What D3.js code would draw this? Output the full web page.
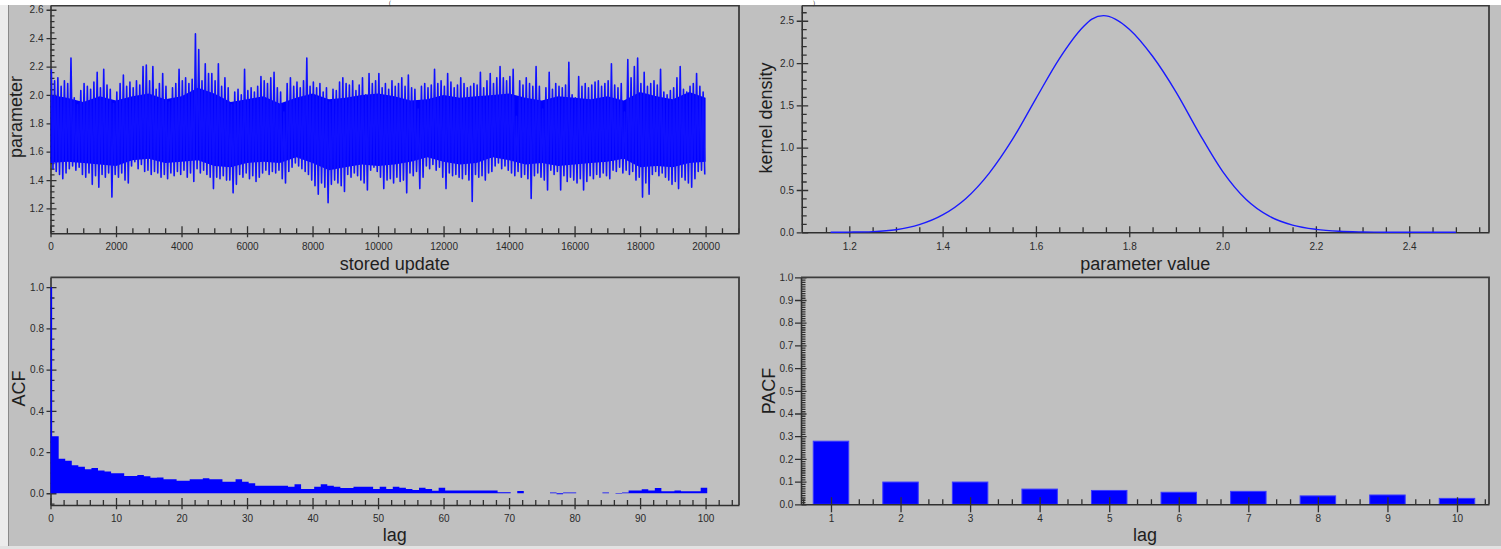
<!DOCTYPE html>
<html><head><meta charset="utf-8">
<script src="https://cdn.jsdelivr.net/npm/d3@7"></script>
<style>
html,body{margin:0;padding:0;background:#c0c0c0;overflow:hidden}
svg{display:block}
.tick text{font-family:"Liberation Sans",Arial,sans-serif;font-size:10px;fill:#2a2a2a}
.title{font-family:"Liberation Sans",Arial,sans-serif;font-size:18px;fill:#1e1e1e}
</style></head>
<body><svg id="c" width="1501" height="549"></svg>
<script>
// ---------------- DATA ----------------
// Trace: max / min of the chain in each block of 100 stored updates
const traceBlock = 100;
const traceHigh = [
2.18,2.10,2.12,2.06,2.10,2.08,2.26,1.98,1.93,2.03,
2.08,2.06,2.04,2.09,2.16,2.05,2.18,2.07,2.04,1.94,
2.02,2.08,2.14,2.06,2.09,2.05,2.10,2.07,2.20,2.21,
2.10,2.20,2.04,2.08,2.15,2.06,1.95,2.05,2.08,2.18,
2.10,2.12,2.08,2.11,2.43,2.32,2.10,2.22,2.15,2.15,
2.10,2.22,2.06,2.12,2.05,1.93,2.02,2.04,2.00,2.18,
2.03,2.05,2.02,2.06,2.13,2.10,2.08,2.12,2.16,2.05,
2.02,1.88,2.08,2.12,2.06,2.09,2.05,2.10,2.26,2.06,
2.09,2.05,2.08,2.02,2.05,1.95,2.04,2.03,2.09,2.12,
2.08,2.07,2.10,2.03,2.07,2.12,2.00,2.15,2.08,2.10,
2.15,2.05,2.08,2.04,2.10,2.06,2.08,2.12,2.06,2.14,
2.05,2.04,1.90,2.06,2.08,2.05,2.07,2.18,2.08,2.10,
2.06,2.15,2.09,2.05,2.07,2.12,2.08,2.05,2.06,2.08,
2.07,2.16,2.05,2.10,2.15,2.08,2.12,2.20,2.12,2.10,
2.13,2.18,1.85,2.10,2.07,2.12,2.08,2.06,2.20,2.06,
1.90,2.05,2.16,2.04,2.08,2.06,2.05,2.07,2.23,2.00,
1.98,2.13,2.06,2.08,2.05,2.07,2.09,2.10,2.06,2.08,
2.10,2.22,2.07,2.05,2.08,1.88,2.25,2.12,2.20,2.26,
2.08,2.16,2.06,2.08,2.10,2.07,2.18,2.02,2.00,2.03,
2.05,2.12,2.20,2.04,2.02,2.06,2.08,2.15,2.06,2.02];
const traceLow = [
1.48,1.46,1.44,1.41,1.45,1.48,1.50,1.47,1.49,1.44,
1.42,1.45,1.37,1.43,1.35,1.44,1.42,1.45,1.28,1.44,
1.42,1.45,1.40,1.38,1.50,1.53,1.48,1.51,1.46,1.47,
1.44,1.46,1.45,1.42,1.44,1.41,1.45,1.43,1.46,1.44,
1.47,1.42,1.45,1.39,1.48,1.45,1.47,1.44,1.42,1.34,
1.42,1.41,1.43,1.40,1.40,1.31,1.37,1.44,1.42,1.45,
1.41,1.43,1.39,1.42,1.45,1.47,1.44,1.46,1.45,1.47,
1.41,1.38,1.46,1.49,1.52,1.50,1.48,1.46,1.44,1.40,
1.36,1.30,1.38,1.35,1.24,1.37,1.40,1.38,1.36,1.32,
1.44,1.42,1.45,1.43,1.40,1.38,1.33,1.47,1.49,1.46,
1.42,1.34,1.40,1.41,1.38,1.42,1.39,1.40,1.31,1.45,
1.43,1.46,1.34,1.42,1.50,1.48,1.51,1.47,1.49,1.42,
1.34,1.45,1.43,1.44,1.42,1.41,1.44,1.40,1.25,1.44,
1.42,1.43,1.40,1.45,1.46,1.50,1.52,1.48,1.50,1.47,
1.45,1.43,1.46,1.42,1.44,1.41,1.27,1.43,1.45,1.42,
1.40,1.33,1.47,1.44,1.46,1.33,1.43,1.39,1.42,1.40,
1.38,1.41,1.33,1.39,1.43,1.41,1.44,1.42,1.45,1.43,
1.41,1.47,1.46,1.49,1.45,1.47,1.44,1.46,1.40,1.42,
1.28,1.38,1.30,1.44,1.46,1.43,1.45,1.42,1.40,1.37,
1.39,1.34,1.42,1.40,1.38,1.35,1.41,1.46,1.47,1.44];
// Edges of the dense (solid) part of the trace, every 500 stored updates
const traceCoreStep = 500;
const traceCoreHigh = [2.00,1.98,1.95,1.99,1.96,1.99,2.01,1.97,1.99,2.05,2.01,1.95,1.97,1.99,1.94,1.98,2.01,1.97,1.98,2.00,
  2.01,1.99,1.96,1.97,2.00,1.98,1.99,2.00,2.01,1.98,1.96,1.99,1.98,1.97,1.99,1.96,2.02,1.99,1.97,2.02,1.98];
const traceCoreLow = [1.52,1.53,1.52,1.51,1.50,1.54,1.55,1.52,1.53,1.54,1.50,1.49,1.52,1.53,1.52,1.56,1.52,1.47,1.49,1.51,
  1.50,1.51,1.53,1.56,1.53,1.51,1.52,1.56,1.54,1.51,1.52,1.50,1.51,1.52,1.53,1.55,1.49,1.50,1.49,1.52,1.53];

// Kernel density
const densX = [1.16,1.2,1.25,1.3,1.35,1.4,1.45,1.5,1.55,1.6,1.65,1.7,1.72,1.745,1.77,1.8,1.85,1.9,1.95,2.0,2.05,2.1,2.15,2.2,2.25,2.3,2.35,2.4,2.45,2.5];
const densY = [0.0,0.002,0.008,0.03,0.09,0.205,0.40,0.70,1.10,1.58,2.05,2.42,2.52,2.56,2.52,2.40,2.08,1.66,1.17,0.72,0.39,0.19,0.085,0.035,0.012,0.004,0.001,0,0,0];

// ACF, lag 0..100 (index = lag)
const acfValues = [
1.0,0.277,0.168,0.158,0.136,0.129,0.116,0.122,0.111,0.105,
0.097,0.097,0.084,0.084,0.089,0.082,0.075,0.076,0.068,0.068,
0.061,0.061,0.068,0.068,0.073,0.068,0.068,0.056,0.056,0.068,
0.056,0.048,0.037,0.037,0.037,0.037,0.037,0.032,0.044,0.021,
0.021,0.032,0.044,0.037,0.031,0.026,0.026,0.031,0.031,0.031,
0.021,0.032,0.021,0.032,0.027,0.021,0.016,0.027,0.021,0.012,
0.027,0.013,0.013,0.013,0.013,0.013,0.013,0.013,0.013,0.005,
0.005,0,0.011,0,0,0,0,0.004,-0.005,0.004,
0.004,0,0,0,0,0.004,0,-0.003,0.004,0.013,
0.013,0.02,0.013,0.026,0.01,0.01,0.013,0.01,0.01,0.01,
0.027];

// PACF
const pacfLags = [1,2,3,4,5,6,7,8,9,10];
const pacfValues = [0.278,0.098,0.098,0.067,0.061,0.053,0.057,0.037,0.041,0.026];

// Tick labels
const traceXTicks = [0,2000,4000,6000,8000,10000,12000,14000,16000,18000,20000];
const traceYTicks = [1.2,1.4,1.6,1.8,2.0,2.2,2.4,2.6];
const densXTicks = [1.2,1.4,1.6,1.8,2.0,2.2,2.4];
const densYTicks = [0.0,0.5,1.0,1.5,2.0,2.5];
const acfXTicks = [0,10,20,30,40,50,60,70,80,90,100];
const acfYTicks = [0.0,0.2,0.4,0.6,0.8,1.0];
const pacfYTicks = [0.0,0.1,0.2,0.3,0.4,0.5,0.6,0.7,0.8,0.9,1.0];

// ---------------- DRAW ----------------
const svg = d3.select("#c");
const BLUE = "#0000ff", AX = "#303030";
svg.append("rect").attr("width",1501).attr("height",549).attr("fill","#c0c0c0");
const defs = svg.append("defs");
function clip(id,x,y,w,h){defs.append("clipPath").attr("id",id).append("rect").attr("x",x).attr("y",y).attr("width",w).attr("height",h);}
clip("cTL",8.5,5,737,268.5); clip("cTR",745,5,756,268.5);
clip("cBL",8.5,273.5,737,272.5); clip("cBR",745,273.5,756,272.5);

function minors(a,b,step,majors){
  const out=[]; const n=Math.round((b-a)/step);
  for(let i=0;i<=n;i++){const v=+(a+i*step).toFixed(4); if(!majors.some(m=>Math.abs(m-v)<1e-6)) out.push(v);}
  return out;
}
function styleAxis(sel, keepDomain){
  sel.selectAll(".tick line").attr("stroke",AX).attr("stroke-width",1.3);
  if(keepDomain) sel.select(".domain").attr("stroke",AX).attr("stroke-width",1.6);
  else sel.select(".domain").remove();
}
function axes(g,c,part){
  const x=c.x,y=c.y;
  if(part!=="major"){
    g.append("g").attr("transform",`translate(0,${c.xAxisY})`)
      .call(d3.axisTop(x).tickValues(c.xMinor).tickSize(c.xMinorLen).tickFormat(""))
      .call(s=>styleAxis(s,false));
    g.append("g").attr("transform",`translate(${c.yAxisX},0)`)
      .call(d3.axisRight(y).tickValues(c.yMinor).tickSize(c.yMinorLen).tickFormat(""))
      .call(s=>styleAxis(s,false));
  }
  if(part!=="minor"){
    g.append("g").attr("transform",`translate(0,${c.xAxisY})`)
      .call(d3.axisBottom(x).tickValues(c.xMajor).tickSize(c.xDown).tickSizeOuter(0).tickPadding(c.xPad).tickFormat(c.xFmt))
      .call(s=>styleAxis(s,true));
    g.append("g").attr("transform",`translate(0,${c.xAxisY})`)
      .call(d3.axisTop(x).tickValues(c.xMajor).tickSize(c.xUp).tickFormat(""))
      .call(s=>styleAxis(s,false));
    g.append("g").attr("transform",`translate(${c.yAxisX},0)`)
      .call(d3.axisLeft(y).tickValues(c.yMajor).tickSize(c.yLeft).tickSizeOuter(0).tickPadding(c.yPad).tickFormat(c.yFmt))
      .call(s=>styleAxis(s,true));
    g.append("g").attr("transform",`translate(${c.yAxisX},0)`)
      .call(d3.axisRight(y).tickValues(c.yMajor).tickSize(c.yRight).tickFormat(""))
      .call(s=>styleAxis(s,false));
    const xr=x.range(), yr=y.range();
    g.append("path").attr("d",`M${c.yAxisX},${yr[1]}H${xr[1]}V${c.xAxisY}`)
      .attr("fill","none").attr("stroke","#3c3c3c").attr("stroke-width",1.8);
  }
}
function titles(g,c,xt,yt){
  g.append("text").attr("class","title").attr("text-anchor","middle")
    .attr("x",(c.x.range()[0]+c.x.range()[1])/2).attr("y",c.xtY).text(xt);
  g.append("text").attr("class","title").attr("text-anchor","middle")
    .attr("transform",`translate(${c.ytX},${c.ytY}) rotate(-90)`).text(yt);
}

// ---- Top-left: trace ----
{
  const g=svg.append("g").attr("clip-path","url(#cTL)");
  const x=d3.scaleLinear().domain([0,21020]).range([50.5,739]);
  const y=d3.scaleLinear().domain([1.025,2.63]).range([233.3,5.5]);
  const c={x,y,xAxisY:233.3,yAxisX:50.5,
    xMajor:traceXTicks,xMinor:minors(0,21000,500,traceXTicks),xMinorLen:5,xDown:4,xUp:7,xPad:5.6,xFmt:d3.format("d"),
    yMajor:traceYTicks,yMinor:minors(1.04,2.6,0.04,traceYTicks),yMinorLen:4,yLeft:4,yRight:6,yPad:3,yFmt:d3.format(".1f"),
    xtY:269.5,ytX:21.5,ytY:117};
  axes(g,c);
  // solid dense part
  g.append("path").attr("d",d3.area().x((d,i)=>x(i*traceCoreStep)).y0((d,i)=>y(traceCoreLow[i])).y1(d=>y(d))(traceCoreHigh))
    .attr("fill",BLUE);
  // individual excursions (thin strokes)
  const pts=[];
  traceHigh.forEach((h,i)=>{pts.push([i*traceBlock+25,h]);pts.push([i*traceBlock+75,traceLow[i]]);});
  g.append("path").attr("d",d3.line().x(d=>x(d[0])).y(d=>y(d[1]))(pts))
    .attr("fill","none").attr("stroke","#1010ff").attr("stroke-width",1.6).attr("stroke-linejoin","round");
  titles(g,c,"stored update","parameter");
}

// ---- Top-right: kernel density ----
{
  const g=svg.append("g").attr("clip-path","url(#cTR)");
  const x=d3.scaleLinear().domain([1.098,2.571]).range([801.7,1489]);
  const y=d3.scaleLinear().domain([0,2.68]).range([232.3,5.5]);
  const c={x,y,xAxisY:232.3,yAxisX:801.7,
    xMajor:densXTicks,xMinor:minors(1.15,2.55,0.05,densXTicks),xMinorLen:5,xDown:5,xUp:6,xPad:5.6,xFmt:d3.format(".1f"),
    yMajor:densYTicks,yMinor:minors(0.1,2.6,0.1,densYTicks),yMinorLen:5,yLeft:5,yRight:6.5,yPad:2.7,yFmt:d3.format(".1f"),
    xtY:269.5,ytX:771.5,ytY:118};
  axes(g,c);
  g.append("path").attr("d",d3.line().curve(d3.curveMonotoneX).x((d,i)=>x(densX[i])).y(d=>y(d))(densY))
    .attr("fill","none").attr("stroke","#1a1aff").attr("stroke-width",1.4);
  titles(g,c,"parameter value","kernel density");
}

// ---- Bottom-left: ACF ----
{
  const g=svg.append("g").attr("clip-path","url(#cBL)");
  const x=d3.scaleLinear().domain([0,105.1]).range([50.5,739]);
  const y=d3.scaleLinear().domain([-0.057,1.048]).range([505,277.3]);
  const c={x,y,xAxisY:505,yAxisX:50.5,
    xMajor:acfXTicks,xMinor:minors(2,104,2,acfXTicks),xMinorLen:5,xDown:4.3,xUp:7,xPad:5.6,xFmt:d3.format("d"),
    yMajor:acfYTicks,yMinor:minors(-0.05,1.0,0.05,acfYTicks),yMinorLen:4,yLeft:4,yRight:6,yPad:2.5,yFmt:d3.format(".1f"),
    xtY:541,ytX:25,ytY:388.5};
  axes(g,c);
  const steps=acfValues.map((v,k)=>[Math.max(0,k-0.75),v]);
  steps.push([acfValues.length-1+0.25,acfValues[acfValues.length-1]]);
  g.append("path").attr("d",d3.area().curve(d3.curveStepAfter).x(d=>x(d[0])).y0(y(0)).y1(d=>y(d[1]))(steps))
    .attr("fill",BLUE);
  titles(g,c,"lag","ACF");
}

// ---- Bottom-right: PACF ----
{
  const g=svg.append("g").attr("clip-path","url(#cBR)");
  const x=d3.scaleLinear().domain([0.569,10.46]).range([801,1489]);
  const y=d3.scaleLinear().domain([0,1.0]).range([504.3,277.3]);
  const c={x,y,xAxisY:504.3,yAxisX:801,
    xMajor:pacfLags,xMinor:minors(0.6,10.4,0.2,pacfLags),xMinorLen:5,xDown:8,xUp:7,xPad:2.6,xFmt:d3.format("d"),
    yMajor:pacfYTicks,yMinor:minors(0.01,0.99,0.01,pacfYTicks),yMinorLen:4.5,yLeft:6,yRight:5.5,yPad:1.7,yFmt:d3.format(".1f"),
    xtY:541,ytX:775,ytY:391};
  axes(g,c,"minor");
  g.selectAll("rect.bar").data(pacfValues).join("rect").attr("class","bar")
    .attr("x",(d,i)=>x(pacfLags[i]-0.255)).attr("width",x(1.255)-x(0.745))
    .attr("y",d=>y(d)).attr("height",d=>y(0)-y(d))
    .attr("fill",BLUE).attr("stroke","#3a3aff").attr("stroke-width",1);
  axes(g,c,"major");
  titles(g,c,"lag","PACF");
}

// ---- window chrome ----
svg.append("rect").attr("x",0).attr("y",0).attr("width",1501).attr("height",5).attr("fill","#ffffff");
svg.append("text").attr("x",389).attr("y",4.5).attr("font-family","Liberation Serif, serif").attr("font-size",6).attr("fill","#333").text("(");
svg.append("text").attr("x",813).attr("y",4.5).attr("font-family","Liberation Serif, serif").attr("font-size",6).attr("fill","#333").text(")");
svg.append("rect").attr("x",0).attr("y",5).attr("width",8).attr("height",544).attr("fill","#ececec");
svg.append("line").attr("x1",8.5).attr("x2",8.5).attr("y1",5).attr("y2",549).attr("stroke","#8a8a8a");
svg.append("rect").attr("x",0).attr("y",546).attr("width",1501).attr("height",3).attr("fill","#e2e2e2");
</script>
</body></html>
